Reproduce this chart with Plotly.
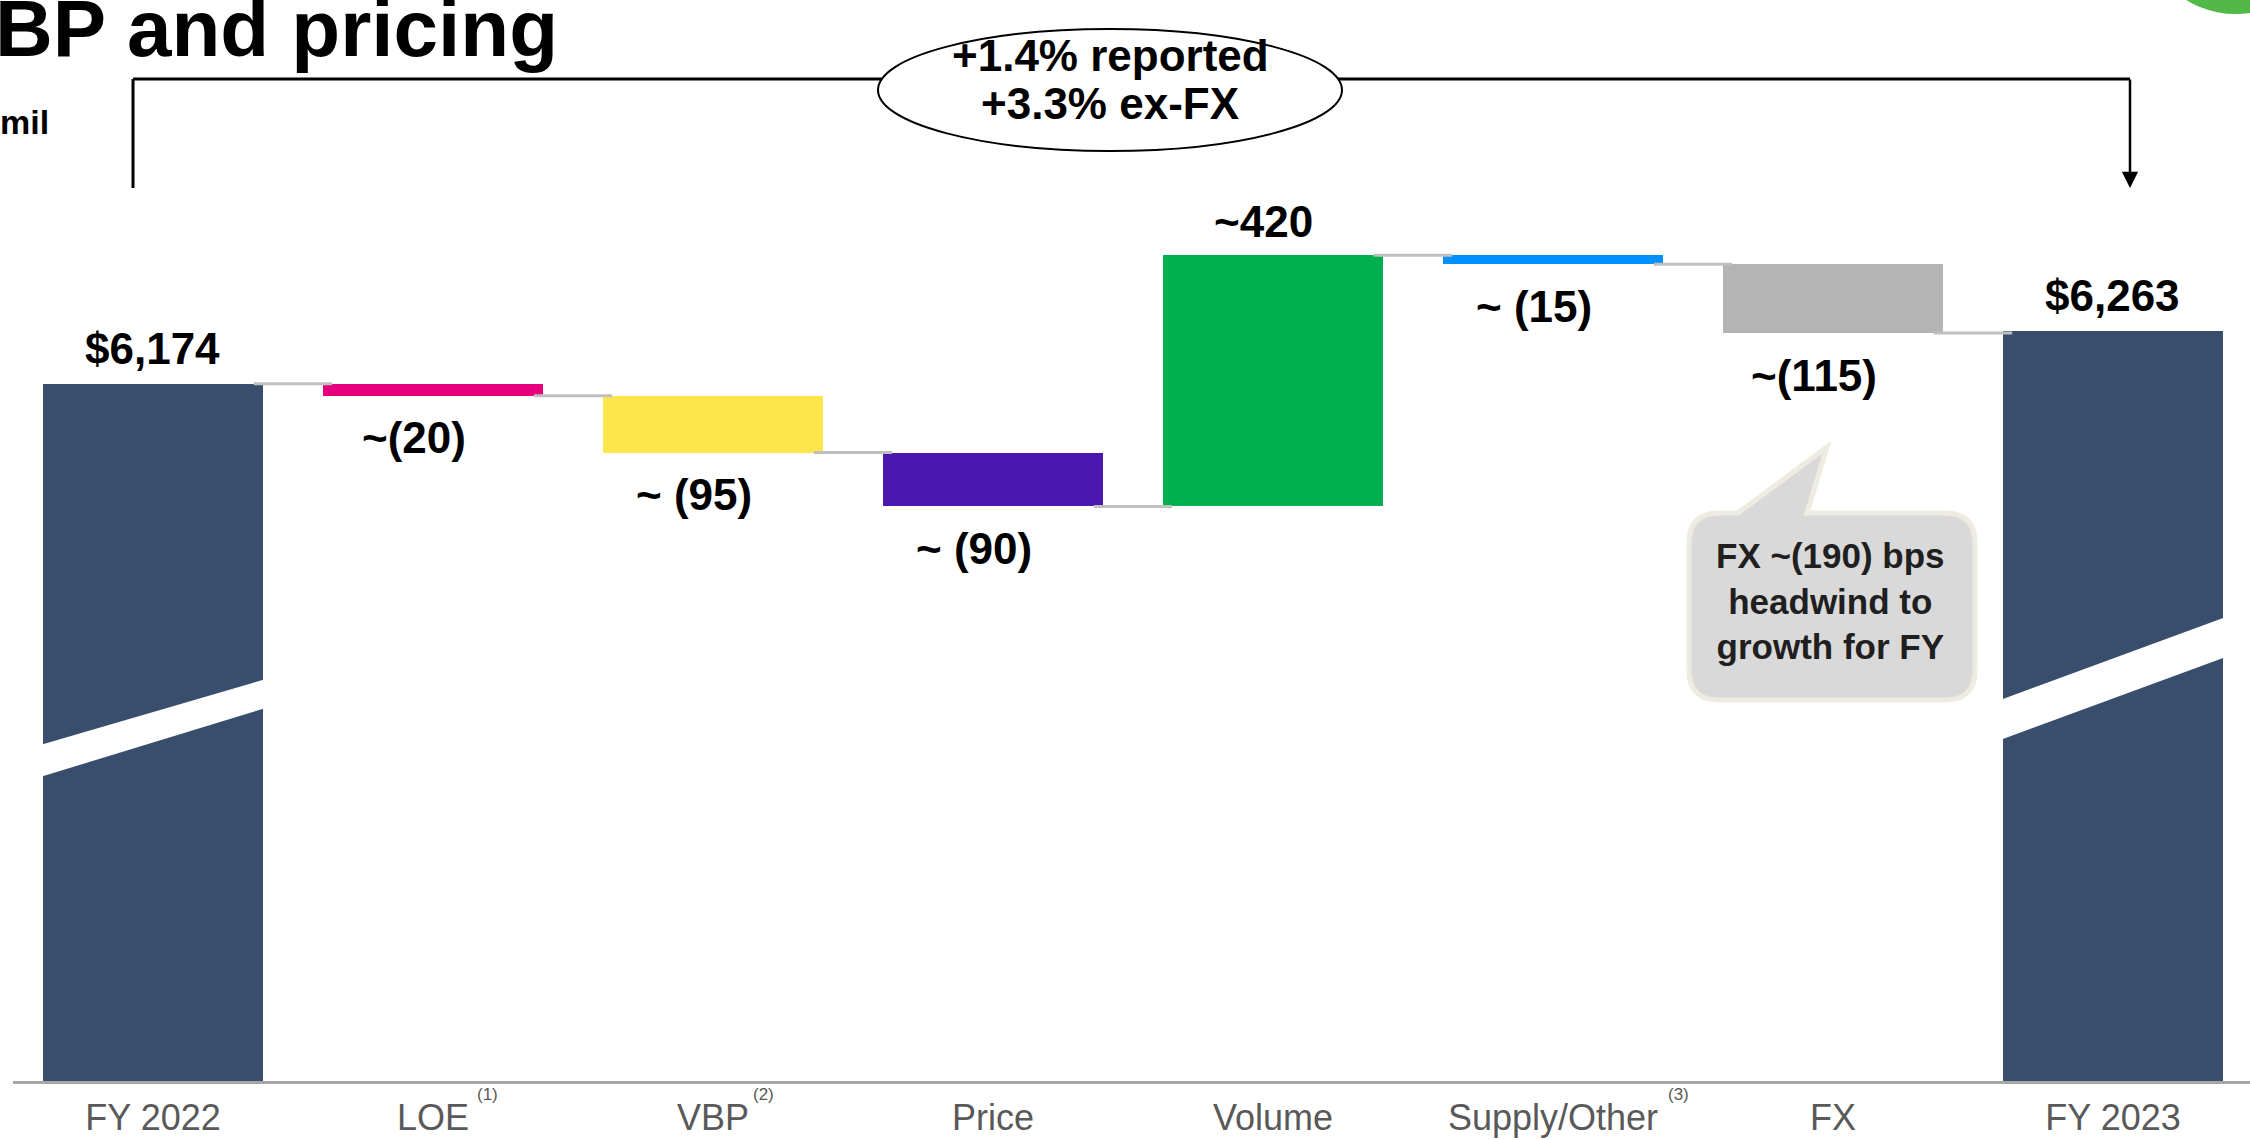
import plotly.graph_objects as go

# ---------------- data ----------------
categories = ["FY 2022", "LOE", "VBP", "Price", "Volume", "Supply/Other", "FX", "FY 2023"]
start_total = 6174
deltas = [-20, -95, -90, 420, -15, -115]
end_total = 6263
value_labels = ["$6,174", "~(20)", "~ (95)", "~ (90)", "~420", "~ (15)", "~(115)", "$6,263"]
footnotes = {"LOE": "(1)", "VBP": "(2)", "Supply/Other": "(3)"}
bar_colors = ["#394E6C", "#E6007E", "#FFE54C", "#4B17AE", "#00AF50", "#0091FF", "#B4B4B4", "#394E6C"]
title_text = "BP and pricing"
unit_text = "mil"
growth_lines = ["+1.4% reported", "+3.3% ex-FX"]
callout_text = "FX ~(190) bps<br>headwind to<br>growth for FY"

# ---------------- layout geometry ----------------
W, H = 2250, 1140
ML, MR, MT, MB = 13, 0, 0, 59
PW, PH = W - ML - MR, H - MT - MB
PITCH = 280.0
BAR_W = 0.786
Y_LOW, Y_HIGH = 5008, 6816


def px(x):
    return (x - ML) / PW


def py(y):
    return (H - MB - y) / PH


# bars
xs = list(range(len(categories)))
heights, bases = [start_total], [0]
cum = start_total
levels = [start_total]
for d in deltas:
    bases.append(cum)
    heights.append(d)
    cum += d
    levels.append(cum)
heights.append(end_total)
bases.append(0)

fig = go.Figure()
fig.add_trace(go.Bar(x=xs, y=heights, base=bases, width=BAR_W,
                     marker=dict(color=bar_colors, line=dict(width=0)),
                     hoverinfo="skip", showlegend=False))

# connectors
cx, cy = [], []
for i, lv in enumerate(levels):
    cx += [i + 0.36, i + 1 - 0.36, None]
    cy += [lv, lv, None]
fig.add_trace(go.Scatter(x=cx, y=cy, mode="lines", line=dict(color="#BFBFBF", width=3),
                         hoverinfo="skip", showlegend=False))

shapes = []
annotations = []

# axis break bands on total bars
bands = {0: (745, 679, 777, 708), 7: (700, 617, 740, 657)}
for i, (ul, ur, ll, lr) in bands.items():
    x0 = i - BAR_W / 2 - 0.01
    x1 = i + BAR_W / 2 + 0.01
    path = (f"M {x0},{py(ul)} L {x1},{py(ur)} L {x1},{py(lr)} L {x0},{py(ll)} Z")
    shapes.append(dict(type="path", xref="x", yref="paper", path=path,
                       fillcolor="white", line=dict(width=0), layer="above"))

# value labels
FONT = "Liberation Sans, Arial, sans-serif"
ends = [start_total] + [b + h for b, h in zip(bases[1:-1], heights[1:-1])] + [end_total]
for i, lab in enumerate(value_labels):
    if i in (0, len(categories) - 1):
        top = ends[i]
        annotations.append(dict(x=i, y=top, xref="x", yref="y", text=f"<b>{lab}</b>",
                                showarrow=False, yanchor="middle", yshift=35, xshift=-1,
                                font=dict(family=FONT, size=44, color="black")))
    else:
        d = deltas[i - 1]
        if d >= 0:
            annotations.append(dict(x=i, y=bases[i] + d, xref="x", yref="y", text=f"<b>{lab}</b>",
                                    showarrow=False, yanchor="middle", yshift=34, xshift=-10,
                                    font=dict(family=FONT, size=44, color="black")))
        else:
            annotations.append(dict(x=i, y=bases[i] + d, xref="x", yref="y", text=f"<b>{lab}</b>",
                                    showarrow=False, yanchor="middle", yshift=-42, xshift=-19,
                                    font=dict(family=FONT, size=44, color="black")))

# footnote superscripts
sup_shift = {"LOE": 54, "VBP": 50, "Supply/Other": 125}
for cat, note in footnotes.items():
    annotations.append(dict(x=categories.index(cat), y=py(1106), xref="x", yref="paper",
                            text=note, showarrow=False, xshift=sup_shift[cat],
                            font=dict(family=FONT, size=17, color="#595959")))

# title and unit
annotations.append(dict(x=px(-7), y=py(28), xref="paper", yref="paper", text=f"<b>{title_text}</b>",
                        showarrow=False, xanchor="left", yanchor="middle",
                        font=dict(family=FONT, size=80, color="black")))
annotations.append(dict(x=px(-2), y=py(122), xref="paper", yref="paper", text=f"<b>{unit_text}</b>",
                        showarrow=False, xanchor="left", yanchor="middle",
                        font=dict(family=FONT, size=34, color="black")))

# bracket with ellipse
shapes.append(dict(type="line", xref="paper", yref="paper", x0=px(133), x1=px(133), y0=py(188), y1=py(79),
                   line=dict(color="black", width=3), layer="above"))
shapes.append(dict(type="line", xref="paper", yref="paper", x0=px(133), x1=px(2130), y0=py(79), y1=py(79),
                   line=dict(color="black", width=3), layer="above"))
shapes.append(dict(type="circle", xref="paper", yref="paper", x0=px(878), x1=px(1342), y0=py(151), y1=py(29),
                   line=dict(color="black", width=2), fillcolor="white", layer="above"))
annotations.append(dict(x=px(2130), y=py(188), xref="paper", yref="paper", ax=0, ay=-110,
                        axref="pixel", ayref="pixel", text="", showarrow=True,
                        arrowhead=2, arrowsize=1.3, arrowwidth=2.5, arrowcolor="black"))
for line_text, line_y in zip(growth_lines, (55, 103)):
    annotations.append(dict(x=px(1110), y=py(line_y), xref="paper", yref="paper", text=f"<b>{line_text}</b>",
                            showarrow=False, xanchor="center", yanchor="middle",
                            font=dict(family=FONT, size=44, color="black")))

# green circle corner
shapes.append(dict(type="circle", xref="paper", yref="paper", x0=px(2140), x1=px(2332), y0=py(14), y1=py(-178),
                   line=dict(width=0), fillcolor="#52B848", layer="above"))

# callout bubble
L, R, T, B, r = 1689, 1975, 513, 700, 30
pts = [("M", L + r, T), ("L", 1738, T), ("L", 1827, 447), ("L", 1807, T), ("L", R - r, T),
       ("Q", R, T, R, T + r), ("L", R, B - r), ("Q", R, B, R - r, B), ("L", L + r, B),
       ("Q", L, B, L, B - r), ("L", L, T + r), ("Q", L, T, L + r, T)]
path = ""
for p in pts:
    if p[0] == "Q":
        path += f"Q {px(p[1])},{py(p[2])} {px(p[3])},{py(p[4])} "
    else:
        path += f"{p[0]} {px(p[1])},{py(p[2])} "
path += "Z"
shapes.append(dict(type="path", xref="paper", yref="paper", path=path,
                   fillcolor="#D9D9D9", line=dict(color="#EEECE1", width=5), layer="above"))
annotations.append(dict(x=px(1830), y=py(601), xref="paper", yref="paper", text=f"<b>{callout_text}</b>",
                        showarrow=False, xanchor="center", yanchor="middle",
                        font=dict(family=FONT, size=35, color="#1F1F1F")))

fig.update_layout(
    width=W, height=H, margin=dict(l=ML, r=MR, t=MT, b=MB),
    paper_bgcolor="white", plot_bgcolor="white",
    shapes=shapes, annotations=annotations, bargap=0,
    xaxis=dict(range=[-0.5, -0.5 + PW / PITCH], tickvals=xs, ticktext=categories,
               tickfont=dict(family=FONT, size=36, color="#595959"),
               showline=True, linecolor="#A6A6A6", linewidth=3, showgrid=False,
               zeroline=False, ticks="", ticklabelstandoff=3, fixedrange=True),
    yaxis=dict(range=[Y_LOW, Y_HIGH], visible=False, fixedrange=True),
)

fig.write_html("out.html")
